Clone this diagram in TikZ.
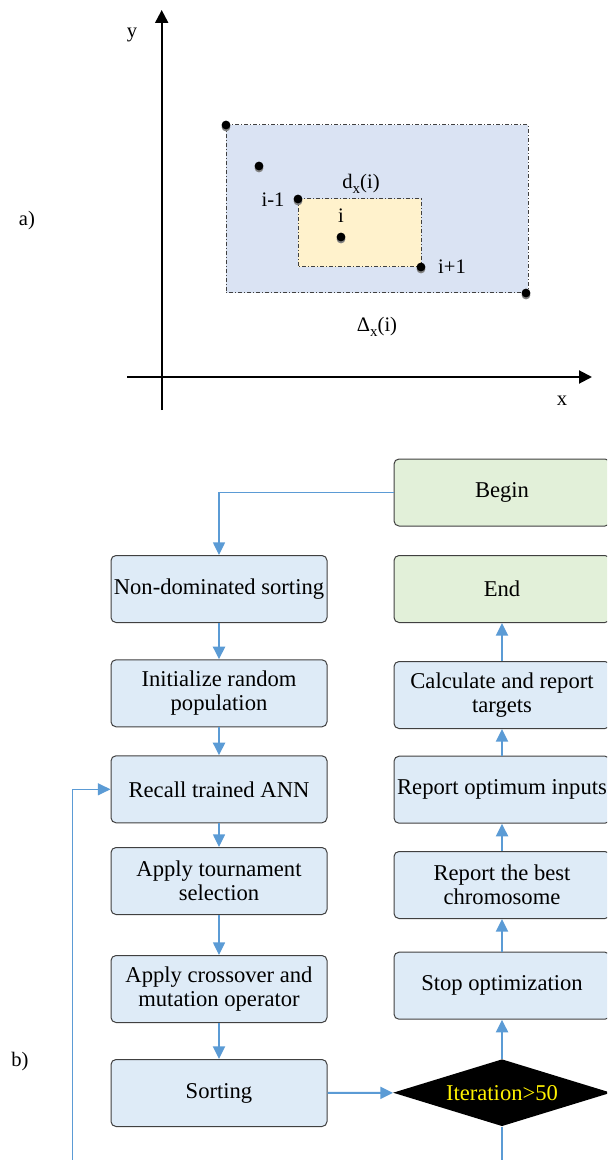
\documentclass[tikz,border=0pt]{standalone}
\usepackage{fontspec}
\setmainfont{Liberation Serif}
\usetikzlibrary{arrows.meta,shapes.geometric,shadows}

\definecolor{boxblue}{HTML}{DEEBF7}
\definecolor{boxgreen}{HTML}{E2F0D9}
\definecolor{linkblue}{HTML}{5B9BD5}
\definecolor{areablue}{HTML}{DAE3F3}
\definecolor{areayellow}{HTML}{FFF2CC}
\definecolor{edgegray}{HTML}{404040}

\newcommand{\lowx}{\raisebox{-0.5ex}{\fontsize{7.5}{8}\selectfont x}}

\tikzset{
  stepbox/.style={draw=edgegray, line width=0.5pt, rounded corners=2.5pt, fill=boxblue,
    minimum width=108pt, minimum height=33.5pt, inner sep=0pt, align=center,
    font=\fontsize{11.3}{12.2}\selectfont},
  termbox/.style={stepbox, fill=boxgreen},
  flow/.style={draw=linkblue, line width=1pt, -{Triangle[length=6.3pt,width=6pt]}},
  thinflow/.style={flow, line width=0.6pt},
  axis/.style={draw=black, line width=1pt, -{Triangle[length=6.5pt,width=6.5pt]}},
  area/.style={draw=edgegray, line width=0.5pt, dash pattern=on 2pt off 1pt on 0.5pt off 1pt},
  pt/.style={circle, fill=black, inner sep=0pt, minimum size=4.4pt,
    drop shadow={shadow xshift=0pt, shadow yshift=-1pt, fill=gray, opacity=1}},
  lbl/.style={inner sep=0pt, anchor=base, font=\fontsize{10.3}{12}\selectfont}
}

\begin{document}
\begin{tikzpicture}[x=0.5pt, y=-0.5pt]
  \useasboundingbox (0,0) rectangle (607,1160);
  \clip (0,0) rectangle (607,1160);

  % a) crowding distance
  \fill[areablue] (226,125) rectangle (528,293);
  \draw[area] (226,125) rectangle (528,293);
  \fill[areayellow] (298,199) rectangle (421,267);
  \draw[area] (298,199) rectangle (421,267);

  \coordinate (xs) at (127,377);
  \coordinate (xe) at (592,377);
  \coordinate (ys) at (161.7,410);
  \coordinate (ye) at (161.7,10);
  \draw[axis] (xs) -- (xe);
  \draw[axis] (ys) -- (ye);

  \node[pt] (p1) at (226,125) {};
  \node[pt] (p2) at (259,166) {};
  \node[pt] (p3) at (298,199) {};
  \node[pt] (p4) at (341,237) {};
  \node[pt] (p5) at (421,267) {};
  \node[pt] (p6) at (526,293) {};

  \node[lbl] (ylab) at (132,38) {y};
  \node[lbl] (xlab) at (562,405) {x};
  \node[lbl] (alab) at (27,226) {a)};
  \node[lbl] (dlab) at (361,189) {d\lowx(i)};
  \node[lbl] (prevlab) at (273,206.7) {i-1};
  \node[lbl] (curlab) at (341,222.7) {i};
  \node[lbl] (nextlab) at (452,274) {i+1};
  \node[lbl] (biglab) at (377,331.7) {Δ\lowx(i)};

  % b) flowchart
  \node[lbl] (blab) at (20,1066.7) {b)};

  \node[stepbox] (nondom) at (219,589) {Non-dominated sorting};
  \node[stepbox] (init) at (219,693.3) {Initialize random\\population};
  \node[stepbox] (recall) at (219,789.3) {Recall trained ANN};
  \node[stepbox] (tourn) at (219,881) {Apply tournament\\selection};
  \node[stepbox] (cross) at (219,989) {Apply crossover and\\mutation operator};
  \node[stepbox] (sort) at (219,1093) {Sorting};

  \node[termbox] (begin) at (502,492.5) {Begin};
  \node[termbox] (end) at (502,589) {End};
  \node[stepbox] (calc) at (502,695) {Calculate and report\\targets};
  \node[stepbox] (opt) at (502,789.7) {Report optimum inputs};
  \node[stepbox] (best) at (502,885) {Report the best\\chromosome};
  \node[stepbox] (stop) at (502,985.7) {Stop optimization};
  \node[diamond, fill=black, text=yellow, aspect=3.25, inner sep=0pt,
    minimum width=109pt, minimum height=33.5pt,
    font=\fontsize{11.3}{12.2}\selectfont] (dia) at (502,1092.7) {Iteration>50};

  \coordinate (loop) at (72.7,1185);

  \draw[thinflow] (begin.west) -| (nondom.north);
  \draw[flow] (nondom) -- (init);
  \draw[flow] (init) -- (recall);
  \draw[thinflow] (recall) -- (tourn);
  \draw[thinflow] (tourn) -- (cross);
  \draw[flow] (cross) -- (sort);
  \draw[flow] (sort) -- (dia);
  \draw[flow] (dia) -- (stop);
  \draw[flow] (stop) -- (best);
  \draw[flow] (best) -- (opt);
  \draw[flow] (opt) -- (calc);
  \draw[flow] (calc) -- (end);
  \draw[thinflow] (dia.south) |- (loop) |- (recall.west);
\end{tikzpicture}
\end{document}
